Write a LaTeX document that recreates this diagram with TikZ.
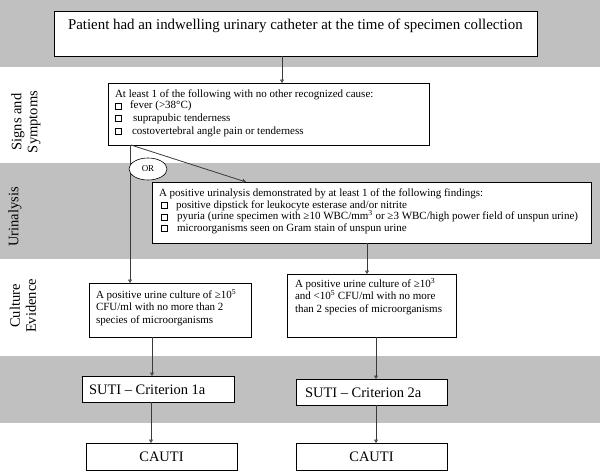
\documentclass[tikz,border=0pt]{standalone}
\usepackage{fontspec}
\setmainfont{Liberation Serif}
\usetikzlibrary{arrows.meta,shapes.geometric,calc}
\newcommand\ckbox{{\setlength\fboxsep{0pt}\setlength\fboxrule{0.5pt}\fbox{\rule{0pt}{5.5pt}\hspace{5.5pt}}}}
\definecolor{band}{HTML}{C0C0C0}
\definecolor{lin}{HTML}{3A3A3A}
\tikzset{
  boxn/.style={draw=black,line width=0.8pt,fill=white,rectangle,inner sep=0pt,outer sep=0pt},
  txt/.style={inner sep=0pt,outer sep=0pt,anchor=base west},
  conn/.style={draw=lin,line width=0.8pt,-{Triangle[open,length=3.5pt,width=4pt]}},
  side/.style={inner sep=0pt,rotate=90,align=center,font=\fontsize{14.5}{16}\selectfont},
  big/.style={font=\fontsize{14.5}{16}\selectfont},
  small/.style={font=\fontsize{11}{12}\selectfont}
}
\begin{document}
\begin{tikzpicture}[x=1pt,y=-1pt]
\useasboundingbox (0,0) rectangle (600,475);
% bands
\fill[band] (0,0) rectangle (600,67);
\fill[band] (0,163) rectangle (600,259);
\fill[band] (0,356) rectangle (600,423);
% side labels
\node[side] (lsign) at (26,122) {Signs and\\Symptoms};
\node[side] (lurin) at (15,217) {Urinalysis};
\node[side] (lcult) at (23,306) {Culture\\Evidence};
% boxes
\node[boxn,minimum width=483pt,minimum height=45pt] (top) at (295.5,33.5) {};
\node[boxn,minimum width=321pt,minimum height=62pt] (signs) at (268.5,114) {};
\node[boxn,minimum width=439pt,minimum height=61pt] (urin) at (371.5,212.5) {};
\node[boxn,minimum width=162pt,minimum height=54pt] (cultL) at (170,310) {};
\node[boxn,minimum width=169pt,minimum height=63pt] (cultR) at (371.5,305.5) {};
\node[boxn,minimum width=152pt,minimum height=26pt] (sutiA) at (158,389) {};
\node[boxn,minimum width=151pt,minimum height=26pt] (sutiB) at (371.5,392) {};
\node[boxn,minimum width=151pt,minimum height=27pt] (cautiL) at (161.5,456.5) {};
\node[boxn,minimum width=151pt,minimum height=27pt] (cautiR) at (371.5,456.5) {};
% texts
\node[txt,font=\fontsize{14.9}{17}\selectfont] (ttop) at (68,29) {Patient had an indwelling urinary catheter at the time of specimen collection};
\node[txt,small] (s0) at (115,97) {At least 1 of the following with no other recognized cause:};
\node[txt,small] (s1b) at (115,108.5) {\ckbox};
\node[txt,small] (s1) at (130,108.5) {fever (>38°C)};
\node[txt,small] (s2b) at (115,121) {\ckbox};
\node[txt,small] (s2) at (133,121) {suprapubic tenderness};
\node[txt,small] (s3b) at (115,134) {\ckbox};
\node[txt,small] (s3) at (132,134) {costovertebral angle pain or tenderness};
\node[txt,small] (u0) at (159,196.5) {A positive urinalysis demonstrated by at least 1 of the following findings:};
\node[txt,small] (u1b) at (161,208) {\ckbox};
\node[txt,small] (u1) at (176,208) {positive dipstick for leukocyte esterase and/or nitrite};
\node[txt,small] (u2b) at (161,219.5) {\ckbox};
\node[txt,small] (u2) at (177,219.5) {pyuria (urine specimen with ≥10 WBC/mm\textsuperscript{3} or ≥3 WBC/high power field of unspun urine)};
\node[txt,small] (u3b) at (161,231) {\ckbox};
\node[txt,small] (u3) at (177,231) {microorganisms seen on Gram stain of unspun urine};
\node[txt,align=left,anchor=north west,font=\fontsize{11}{12.5}\selectfont] (cl) at (96,289) {A positive urine culture of ≥10\textsuperscript{5}\\CFU/ml with no more than 2\\species of microorganisms};
\node[txt,align=left,anchor=north west,font=\fontsize{11}{12.5}\selectfont] (cr) at (295,278) {A positive urine culture of ≥10\textsuperscript{3}\\and <10\textsuperscript{5} CFU/ml with no more\\than 2 species of microorganisms};
\node[txt,big] (sa) at (89,394) {SUTI – Criterion 1a};
\node[txt,big] (sb) at (305,397.5) {SUTI – Criterion 2a};
\node[big,inner sep=0pt] (ca) at (cautiL) {CAUTI};
\node[big,inner sep=0pt] (cb) at (cautiR) {CAUTI};
% connectors
\coordinate (ta) at ($(top.south)+(-13.5,0)$);
\draw[conn] (ta) -- (ta |- signs.north);
\coordinate (split) at ($(signs.south west)+(22,0)$);
\draw[conn] (split) -- (split |- cultL.north);
\coordinate (dg) at ($(signs.south west)+(23,0)$);
\coordinate (dgend) at ($(urin.north west)+(94,0)$);
\draw[conn] (dg) -- (dgend);
\node[draw=black,line width=0.6pt,fill=white,ellipse,minimum width=38pt,minimum height=22pt,inner sep=0pt,font=\fontsize{9}{10}\selectfont] (or) at (148,169) {OR};
\coordinate (ua) at ($(urin.south)+(-4.5,0)$);
\draw[conn] (ua) -- (ua |- cultR.north);
\draw[conn] (cultL.south -| 152,0) -- (sutiA.north -| 152,0);
\draw[conn] (sutiA.south -| 151,0) -- (cautiL.north -| 151,0);
\draw[conn] (cultR.south -| 376,0) -- (sutiB.north -| 376,0);
\draw[conn] (sutiB.south -| 376,0) -- (cautiR.north -| 376,0);
\end{tikzpicture}
\end{document}
